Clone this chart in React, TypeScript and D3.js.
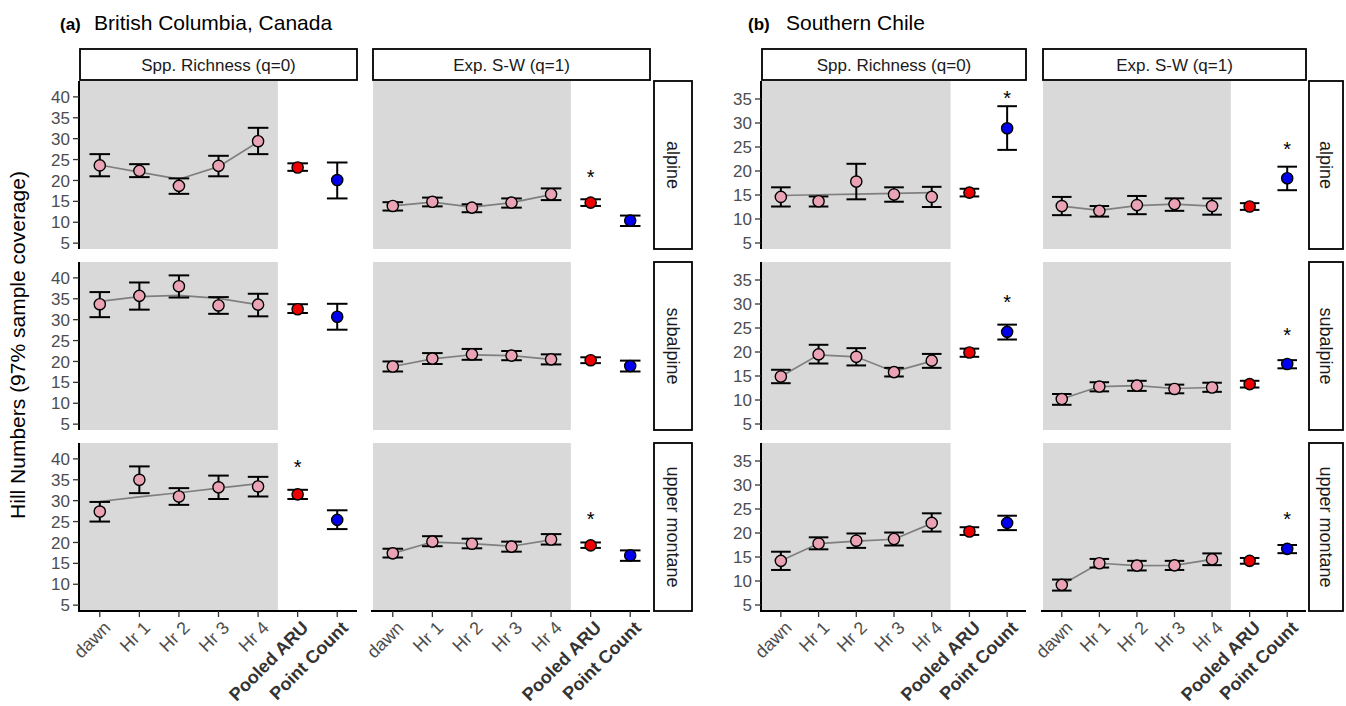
import React from "react";
import * as d3 from "d3";

const periods = ["dawn", "Hr 1", "Hr 2", "Hr 3", "Hr 4", "Pooled ARU", "Point Count"];
const zones = ["alpine", "subalpine", "upper montane"];
const metrics = ["Spp. Richness (q=0)", "Exp. S-W (q=1)"];
const bcTicks = [5, 10, 15, 20, 25, 30, 35, 40];
const chTicks = [5, 10, 15, 20, 25, 30, 35];

// British Columbia, species richness (rows = zones, cols = periods)
const bcRichMean = [
  [23.6, 22.3, 18.7, 23.5, 29.4, 23.1, 20.1],
  [33.7, 35.7, 38.0, 33.4, 33.6, 32.5, 30.7],
  [27.4, 35.0, 31.0, 33.2, 33.4, 31.5, 25.4],
];
const bcRichLo = [
  [21.0, 20.8, 16.8, 21.0, 26.3, 22.3, 15.7],
  [30.6, 32.4, 35.3, 31.4, 30.8, 31.6, 27.6],
  [25.0, 31.8, 29.0, 30.4, 31.0, 30.4, 23.2],
];
const bcRichHi = [
  [26.3, 23.9, 20.5, 25.9, 32.6, 24.1, 24.3],
  [36.6, 38.9, 40.6, 35.4, 36.2, 33.7, 33.8],
  [29.7, 38.2, 33.0, 36.0, 35.7, 32.6, 27.7],
];
const bcRichFit = [
  [23.7, 22.0, 20.3, 23.3, 29.2],
  [34.4, 35.5, 35.8, 35.1, 33.6],
  [29.8, 30.9, 31.9, 33.0, 34.1],
];

// British Columbia, exponential Shannon-Wiener
const bcShanMean = [
  [13.9, 14.9, 13.5, 14.7, 16.7, 14.7, 10.4],
  [18.8, 20.7, 21.7, 21.4, 20.5, 20.3, 18.9],
  [17.4, 20.2, 19.7, 19.0, 20.7, 19.3, 16.9],
];
const bcShanLo = [
  [12.8, 13.8, 12.4, 13.5, 15.3, 13.9, 9.1],
  [17.6, 19.4, 20.4, 20.3, 19.3, 19.6, 17.6],
  [16.4, 19.1, 18.6, 17.8, 19.5, 18.7, 15.6],
];
const bcShanHi = [
  [14.8, 15.9, 14.3, 15.7, 18.1, 15.5, 11.6],
  [20.0, 22.0, 23.0, 22.5, 21.7, 21.0, 20.2],
  [18.5, 21.5, 20.9, 20.2, 22.0, 20.0, 18.1],
];
const bcShanFit = [
  [13.9, 14.8, 13.6, 14.7, 16.6],
  [18.8, 20.6, 21.6, 21.4, 20.5],
  [17.4, 20.1, 19.7, 19.1, 20.6],
];

// Southern Chile, species richness
const chRichMean = [
  [14.6, 13.7, 17.8, 15.1, 14.6, 15.5, 28.9],
  [14.9, 19.5, 19.0, 15.8, 18.2, 19.9, 24.2],
  [14.2, 17.8, 18.4, 18.75, 22.1, 20.3, 22.1],
];
const chRichLo = [
  [12.6, 12.6, 14.1, 13.6, 12.5, 14.7, 24.4],
  [13.5, 17.6, 17.2, 14.9, 16.7, 19.0, 22.6],
  [12.3, 16.6, 16.9, 17.4, 20.3, 19.6, 20.6],
];
const chRichHi = [
  [16.6, 14.7, 21.5, 16.6, 16.7, 16.3, 33.5],
  [16.3, 21.5, 20.8, 16.7, 19.6, 20.7, 25.7],
  [16.1, 19.1, 19.9, 20.1, 24.1, 21.2, 23.6],
];
const chRichFit = [
  [14.9, 15.05, 15.2, 15.35, 15.5],
  [14.9, 19.4, 19.0, 15.9, 18.1],
  [14.2, 17.8, 18.3, 18.7, 22.0],
];

// Southern Chile, exponential Shannon-Wiener
const chShanMean = [
  [12.7, 11.7, 12.9, 13.1, 12.7, 12.6, 18.5],
  [10.2, 12.8, 13.0, 12.3, 12.6, 13.3, 17.5],
  [9.2, 13.7, 13.2, 13.25, 14.5, 14.2, 16.7],
];
const chShanLo = [
  [10.8, 10.5, 11.0, 11.7, 10.9, 11.9, 16.0],
  [9.0, 11.8, 11.9, 11.4, 11.7, 12.6, 16.6],
  [8.0, 12.8, 12.2, 12.3, 13.3, 13.6, 15.8],
];
const chShanHi = [
  [14.6, 12.7, 14.8, 14.3, 14.3, 13.3, 20.9],
  [11.25, 13.7, 14.0, 13.2, 13.6, 14.0, 18.3],
  [10.3, 14.6, 14.2, 14.2, 15.75, 14.8, 17.5],
];
const chShanFit = [
  [12.7, 11.8, 12.8, 13.1, 12.7],
  [10.2, 12.8, 13.0, 12.4, 12.6],
  [9.2, 13.7, 13.2, 13.25, 14.5],
];

// significance asterisks: [zone index, period, y value]
const bcRichStars: [number, string, number][] = [[2, "Pooled ARU", 38.9]];
const bcShanStars: [number, string, number][] = [[0, "Pooled ARU", 21.7], [2, "Pooled ARU", 26.6]];
const chRichStars: [number, string, number][] = [[0, "Point Count", 36.0], [1, "Point Count", 31.2]];
const chShanStars: [number, string, number][] = [[0, "Point Count", 25.4], [1, "Point Count", 24.4], [2, "Point Count", 23.75]];

const FONT = "'Liberation Sans', Arial, Helvetica, sans-serif";
const rowTops = [81, 262, 443];
const rowH = 168;
const stripTop = 49;
const stripBottom = 80;

const fillFor = (p: string) => (p === "Pooled ARU" ? "#ee0000" : p === "Point Count" ? "#0000ee" : "#eaa3b4");

type Series = { mean: number[][]; lo: number[][]; hi: number[][]; fit: number[][]; stars: [number, string, number][] };

function Panel(props: { x0: number; x1: number; top: number; zone: number; s: Series; domain: number[]; ticks: number[]; showY: boolean; showX: boolean }) {
  const { x0, x1, top, zone, s, domain, ticks, showY, showX } = props;
  const x = d3.scalePoint<string>().domain(periods).range([x0, x1]).padding(0.5);
  const step = x.step();
  const y = d3.scaleLinear().domain(domain).range([top + rowH, top]);
  const line = d3.line<number>().x((d, i) => x(periods[i])!).y(d => y(d));
  const cap = step * 0.26;
  return (
    <g>
      <rect x={x0} y={top} width={x("Hr 4")! + step / 2 - x0} height={rowH} fill="#d9d9d9" />
      <path d={line(s.fit[zone])!} fill="none" stroke="#7f7f7f" strokeWidth={1.7} />
      {periods.map((p, i) => {
        const cx = x(p)!;
        return (
          <g key={p}>
            <line x1={cx} x2={cx} y1={y(s.lo[zone][i])} y2={y(s.hi[zone][i])} stroke="#000" strokeWidth={2} />
            <line x1={cx - cap} x2={cx + cap} y1={y(s.lo[zone][i])} y2={y(s.lo[zone][i])} stroke="#000" strokeWidth={2} />
            <line x1={cx - cap} x2={cx + cap} y1={y(s.hi[zone][i])} y2={y(s.hi[zone][i])} stroke="#000" strokeWidth={2} />
            <circle cx={cx} cy={y(s.mean[zone][i])} r={5.6} fill={fillFor(p)} stroke="#000" strokeWidth={1.4} />
          </g>
        );
      })}
      {s.stars.filter(st => st[0] === zone).map(st => (
        <text key={st[1]} x={x(st[1])} y={y(st[2]) + 11} textAnchor="middle" fontSize={20} fontFamily={FONT} fill="#000">*</text>
      ))}
      {showY && (
        <g>
          <line x1={x0 - 1} x2={x0 - 1} y1={top} y2={top + rowH} stroke="#000" strokeWidth={2} />
          {ticks.map(t => (
            <g key={t}>
              <line x1={x0 - 7} x2={x0 - 1} y1={y(t)} y2={y(t)} stroke="#333" strokeWidth={1.3} />
              <text x={x0 - 10} y={y(t)} dy="0.36em" textAnchor="end" fontSize={17} fontFamily={FONT} fill="#4d4d4d">{t}</text>
            </g>
          ))}
        </g>
      )}
      {showX && (
        <g>
          <line x1={x0 - 2} x2={x1} y1={top + rowH} y2={top + rowH} stroke="#000" strokeWidth={2} />
          {periods.map((p, i) => {
            const cx = x(p)!;
            const bold = i >= 5;
            return (
              <g key={p}>
                <line x1={cx} x2={cx} y1={top + rowH} y2={top + rowH + 6} stroke="#333" strokeWidth={1.3} />
                <text transform={`translate(${cx + 3},${top + rowH + 9}) rotate(-45)`} dy="0.7em" textAnchor="end"
                  fontSize={18} fontWeight={bold ? "bold" : "normal"} fontFamily={FONT} fill={bold ? "#333" : "#4d4d4d"}>{p}</text>
              </g>
            );
          })}
        </g>
      )}
    </g>
  );
}

function Figure(props: { tag: string; title: string; tagX: number; titleX: number; cols: number[][]; strip: number[]; domain: number[]; ticks: number[]; series: Series[] }) {
  const { tag, title, tagX, titleX, cols, strip, domain, ticks, series } = props;
  return (
    <g>
      <text x={tagX} y={30} fontSize={17} fontWeight="bold" fontFamily={FONT}>{tag}</text>
      <text x={titleX} y={30} fontSize={21} fontFamily={FONT}>{title}</text>
      {cols.map((c, ci) => (
        <g key={ci}>
          <rect x={c[0]} y={stripTop} width={c[1] - c[0]} height={stripBottom - stripTop} fill="#fff" stroke="#000" strokeWidth={1.8} />
          <text x={(c[0] + c[1]) / 2} y={(stripTop + stripBottom) / 2} dy="0.36em" textAnchor="middle" fontSize={17} fontFamily={FONT} fill="#1a1a1a">{metrics[ci]}</text>
          {zones.map((z, zi) => (
            <Panel key={z} x0={c[0]} x1={c[1]} top={rowTops[zi]} zone={zi} s={series[ci]} domain={domain} ticks={ticks}
              showY={ci === 0} showX={zi === zones.length - 1} />
          ))}
        </g>
      ))}
      {zones.map((z, zi) => (
        <g key={z}>
          <rect x={strip[0]} y={rowTops[zi]} width={strip[1] - strip[0]} height={rowH} fill="#fff" stroke="#000" strokeWidth={1.8} />
          <text transform={`translate(${(strip[0] + strip[1]) / 2},${rowTops[zi] + rowH / 2}) rotate(90)`} dy="0.36em" textAnchor="middle"
            fontSize={18} fontFamily={FONT} fill="#1a1a1a">{z}</text>
        </g>
      ))}
    </g>
  );
}

export default function App() {
  const bc: Series[] = [
    { mean: bcRichMean, lo: bcRichLo, hi: bcRichHi, fit: bcRichFit, stars: bcRichStars },
    { mean: bcShanMean, lo: bcShanLo, hi: bcShanHi, fit: bcShanFit, stars: bcShanStars },
  ];
  const ch: Series[] = [
    { mean: chRichMean, lo: chRichLo, hi: chRichHi, fit: chRichFit, stars: chRichStars },
    { mean: chShanMean, lo: chShanLo, hi: chShanHi, fit: chShanFit, stars: chShanStars },
  ];
  return (
    <svg width={1346} height={706} style={{ position: "absolute", left: 0, top: 0, background: "#fff" }}>
      <text transform="translate(25,345) rotate(-90)" textAnchor="middle" fontSize={21} fontFamily={FONT}>Hill Numbers (97% sample coverage)</text>
      <Figure tag="(a)" title="British Columbia, Canada" tagX={60} titleX={94} cols={[[80, 357], [373, 650]]} strip={[654, 692]}
        domain={[3.6, 43.8]} ticks={bcTicks} series={bc} />
      <Figure tag="(b)" title="Southern Chile" tagX={748} titleX={786} cols={[[762, 1026], [1043, 1306]]} strip={[1309, 1343]}
        domain={[3.75, 38.75]} ticks={chTicks} series={ch} />
    </svg>
  );
}
